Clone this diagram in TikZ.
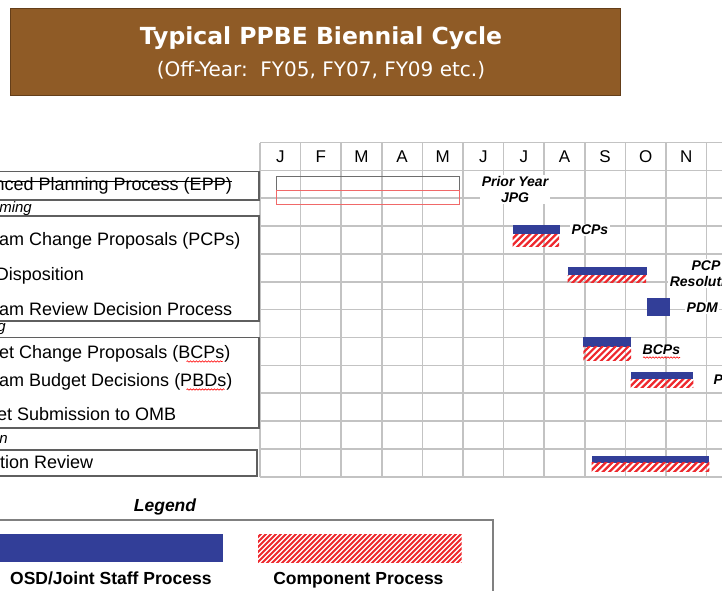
\documentclass[tikz,border=0pt]{standalone}
\usepackage{fontspec}
\setmainfont{Liberation Sans}
\newfontfamily\titlefont{DejaVu Sans}
\usetikzlibrary{decorations.pathmorphing}
\definecolor{osdblue}{RGB}{50,62,152}
\definecolor{hatchred}{RGB}{238,40,45}
\definecolor{titlebrown}{RGB}{143,91,38}
\definecolor{titleedge}{RGB}{100,62,25}
\definecolor{gridgray}{RGB}{195,195,195}
\definecolor{boxgray}{RGB}{95,95,95}
\definecolor{eppgray}{RGB}{110,110,110}
\definecolor{eppred}{RGB}{240,105,105}
\newcommand\hatchrect[6]{%
  \begin{scope}
    \clip (#1,#2) rectangle (#3,#4);
    \foreach \k in {0,...,60}
      \draw[hatchline, line width=#6] ({#1-70+\k*#5},{#4+30}) -- ++(60,-60);
  \end{scope}}
\tikzset{
  gridline/.style={draw=gridgray, line width=1.6pt},
  month/.style={font=\fontsize{17}{20}\selectfont, inner sep=0pt},
  lbl/.style={font=\fontsize{18}{21}\selectfont, inner sep=0pt, anchor=base east},
  lblw/.style={font=\fontsize{18}{21}\selectfont, inner sep=0pt, anchor=base west},
  sect/.style={font=\itshape\fontsize{15}{18}\selectfont, inner sep=0pt, anchor=base east},
  lbox/.style={draw=boxgray, line width=1.4pt},
  glabel/.style={font=\bfseries\itshape\fontsize{14}{15.5}\selectfont, fill=white, inner sep=1.5pt, align=center},
  osd/.style={fill=osdblue},
  hatchline/.style={draw=hatchred},
  squiggle/.style={draw=red, line width=0.6pt, decorate, decoration={snake, amplitude=0.7pt, segment length=3pt}},
  legtext/.style={font=\bfseries\fontsize{17.5}{20}\selectfont, inner sep=0pt, anchor=base},
}
\begin{document}
\begin{tikzpicture}[x=1pt,y=-1pt]
\useasboundingbox (0,0) rectangle (722,590);
\clip (0,0) rectangle (722,590);
\fill[white] (0,0) rectangle (722,590);

% title
\node[draw=titleedge, fill=titlebrown, line width=1pt, minimum width=610pt, minimum height=87pt, inner sep=0pt] (titlebox) at (315,51.5) {};
\node[text=white, font=\titlefont\bfseries\fontsize{23.5}{26}\selectfont, inner sep=0pt] (title) at (321,38.5) {Typical PPBE Biennial Cycle};
\node[text=white, font=\titlefont\fontsize{20}{24}\selectfont, inner sep=0pt] (subtitle) at (321,70.5) {(Off-Year:\ \ FY05, FY07, FY09 etc.)};

% grid
\foreach \i in {0,...,12}
  \draw[gridline] ({260+\i*40.6},142.5) -- ({260+\i*40.6},476.7);
\foreach \j in {0,...,12}
  \draw[gridline] (260,{142.5+\j*27.85}) -- (730,{142.5+\j*27.85});
\foreach \m [count=\c from 0] in {J,F,M,A,M,J,J,A,S,O,N,D}
  \node[month] (m\c) at ({280.3+\c*40.6},157) {\m};

% left label boxes
\draw[lbox] (-10,171.5) rectangle (259,200);
\draw[lbox] (-10,216) rectangle (259,321);
\draw[lbox] (-10,337.5) rectangle (259,428);
\draw[lbox] (-10,450) rectangle (257,476);

\node[lbl] (epp) at (232,190.5) {anced Planning Process (EPP)};
\draw[black, line width=0.9pt] (0,181) -- (epp.east |- 0,181);
\node[sect] (prog) at (32,212) {ming};
\node[lblw] (pcp) at (-1,245.5) {am Change Proposals (PCPs)};
\node[lbl] (disp) at (84,280.5) {Disposition};
\node[lblw] (prdp) at (-1,315.5) {am Review Decision Process};
\node[sect] (budg) at (6,331) {g};
\node[lblw] (bcp) at (-1,358.5) {et Change Proposals (BCPs)};
\node[lblw] (pbd) at (-1,386.5) {am Budget Decisions (PBDs)};
\node[lblw] (omb) at (-3,420.5) {et Submission to OMB};
\node[sect] (exec) at (8,443) {n};
\node[lblw] (exrev) at (0,468.5) {tion Review};
\draw[squiggle] (bcp.base east) ++(-44,3) -- ++(36,0);
\draw[squiggle] (pbd.base east) ++(-46,3) -- ++(38,0);

% EPP gantt boxes
\draw[draw=eppgray, line width=1pt] (276.7,176) rectangle (459.3,190);
\draw[draw=eppred, line width=1pt] (276.7,190) rectangle (459.3,204.3);

% bars
\fill[osd] (512.7,225) rectangle (560,234);
\hatchrect{512.7}{234}{559}{246}{6.5}{2.2pt}
\fill[osd] (567.7,266.7) rectangle (646.7,275);
\hatchrect{567.7}{275}{646}{282}{6.5}{2.2pt}
\fill[osd] (646.7,298) rectangle (670,315.7);
\fill[osd] (583.3,336.7) rectangle (631,346.7);
\hatchrect{583.3}{346.7}{631}{360}{6.5}{2.2pt}
\fill[osd] (630.7,372.3) rectangle (693.3,379);
\hatchrect{630.7}{379}{693.3}{387}{6.5}{2.2pt}
\fill[osd] (591.7,456) rectangle (709.3,462.7);
\hatchrect{591.7}{462.7}{709.3}{471}{6.5}{2.2pt}

% grid labels
\node[glabel] (jpg) at (515,189.5) {Prior Year\\JPG};
\node[glabel, anchor=west] (pcplab) at (570,230) {PCPs};
\node[glabel] (pcpres) at (706,273.5) {PCP\\Resolution};
\node[glabel, anchor=west] (pdmlab) at (685,308) {PDM};
\node[glabel, anchor=west] (bcplab) at (641,350) {BCPs};
\draw[squiggle] (643,357.5) -- (680,357.5);
\node[glabel, anchor=west] (pbdlab) at (712,380) {PBDs};

% legend
\node[font=\bfseries\itshape\fontsize{17.5}{20}\selectfont, inner sep=0pt, anchor=base] (legend) at (165,511) {Legend};
\draw[draw=gray, line width=1.2pt] (-5,520) rectangle (493,600);
\fill[osd] (-5,534) rectangle (222.7,562);
\hatchrect{258}{534}{461.7}{562}{5}{1.8pt}
\node[legtext, anchor=base east] (legosd) at (211.7,584) {OSD/Joint Staff Process};
\node[legtext] (legcomp) at (358.4,584) {Component Process};
\end{tikzpicture}
\end{document}
